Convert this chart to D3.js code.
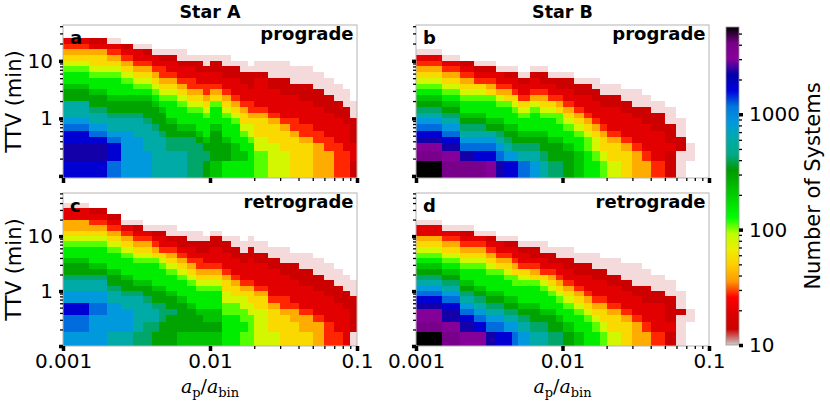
<!DOCTYPE html>
<html>
<head>
<meta charset="utf-8">
<script src="https://cdn.jsdelivr.net/npm/d3@7"></script>
<style>
  body { margin: 0; background: #fff; }
  svg { display: block; }
</style>
</head>
<body>
<div id="chart"></div>
<script>
// bin edges of the 2D histograms (a_p/a_bin across, TTV in minutes up)
const X_EDGES = [0.001, 0.0015, 0.002, 0.0025, 0.003, 0.0035, 0.004, 0.0045, 0.005,
  0.006, 0.007, 0.008, 0.009, 0.01, 0.012, 0.014, 0.016, 0.018, 0.02,
  0.025, 0.03, 0.035, 0.04, 0.05, 0.06, 0.07, 0.08, 0.09, 0.1];
const Y_EDGES = [0.09, 0.18, 0.275, 0.37, 0.47, 0.6, 0.8, 1.0, 1.25, 1.6, 2, 2.5, 3.2,
  4, 5, 6.3, 8, 10, 12.5, 16, 20, 25, 32, 40, 50, 63];

// one char per cell -> number of systems in that cell ("." = empty)
const LEVEL_CODES = "0123456789abcdefghij";
const LEVEL_COUNTS = [12, 14, 20, 28, 40, 55, 80, 110, 150, 220, 300, 420, 600, 850,
  1200, 1700, 2300, 3000, 4000, 5700];

// one string per x bin, top row first, bottom row last
const A_PRO = [
  "..234567889aacccdeffggf", "..1245567889aabccdefggf", "..02345678889aabccdeffe",
  "...1234567889aabccddddd", "...0223456789aabcccdddd", "...0123456789aaabccccdd",
  "....0223456789aaabccccc", "....01233456789aaabcccc", "....0122345678889aabbcc",
  "....00122345678889abbcc", ".....0122334567889abbbb", ".....01122345678889abbb",
  ".....001223345678889aba", ".....0112234578889aaaa9", ".....001122345678889aa8",
  "......01122234567888998", "......00112223455678898", ".......0111223345667888",
  "......00122222345556677", "......00011222234555666", "......00011122223455566",
  ".......0001122223345555", ".......0001112222334555", "........000111222233444",
  ".........00011122223344", "..........0001112222333", "...........000111222233",
  ".............0001111221"
];
const B_PRO = [
  "....023456789abcdefghij", ".....023456789abcdefghi", "......1234567889abcdegi",
  "......0123567889abcdefi", "......01234578889acdefh", ".......0223467889abcdeg",
  ".......01234578889abcdf", ".......01223567889aabdf", "........01223567889abce",
  ".......012234678889abcd", ".......011234567889aabc", "........012235678889aab",
  "........011234577889aab", "........0112234567889aa", ".........01122345678899",
  ".........01122234567788", ".........00112223456678", "..........0011222345567",
  "..........0011222234556", "...........001122223455", "...........000112222344",
  "............00111222234", ".............0011122223", "..............000111211",
  "................0001100", "....................00.", "", ""
];
const A_RET = [
  "..02244567889aabccddffeed", "...12345678889abccddeeddd", "....12345678889aabccddddc",
  ".....02345678889aabccdddc", ".....012345678889abcccccb", "......02345678889aabcccbb",
  "......012345788889aabccba", "......012235678889aabbbaa", "......0012345678889aabaaa",
  ".......0112345678889aaaa9", ".......00122345678889aaa9", ".......001123345678889aa9",
  "........011223456788899a9", ".......0112223456788899a9", "........01122234556677888",
  "........00112223455677888", ".........0011222345667787", "........00112222345566777",
  ".........0011222234556666", "..........001122222345556", "..........000112222334555",
  "...........00111222234455", "...........00011122223445", "............0001112222344",
  ".............000111222233", "..............00011122223", "...............0001112222",
  "................000111110"
];
const B_RET = [
  ".....022456789abcdefghhij", "......023456789abcdefgghi", "......01234567889abcdefgh",
  ".......02345678889abcdefh", ".......012345678889abcdeg", "........02234578889abcdef",
  "........012345678889abcdf", "........012234577889abcde", ".........012235678889abcd",
  ".........011234578889aabc", ".........0012235678889abc", "..........011234567889aab",
  "..........0012234567889ab", "..........00112234567889a", "...........00112234567889",
  "...........00112223456788", "...........00011222345678", "............0011222345567",
  "............0001122234556", ".............000112223455", ".............000011222344",
  "..............00011122234", "...............0001122223", "................000111121",
  "..................0001000", ".....................00..", "", ""
];

const X_TICKS = [0.001, 0.01, 0.1];
const X_TICK_LABELS = ["0.001", "0.01", "0.1"];
const Y_TICKS = [0.1, 1, 10];
const Y_TICK_LABELS = ["", "1", "10"];
const CBAR_TICKS = [10, 100, 1000];
const CBAR_TICK_LABELS = ["10", "100", "1000"];
const CBAR_RANGE = [10, 5700];

const STARS = ["Star A", "Star B"];
const ORBITS = ["prograde", "retrograde"];

// matplotlib nipy_spectral, used reversed
const NIPY = [
  [0.00, 0, 0, 0], [0.05, 0.4667, 0, 0.5333], [0.10, 0.5333, 0, 0.6], [0.15, 0, 0, 0.6667],
  [0.20, 0, 0, 0.8667], [0.25, 0, 0.4667, 0.8667], [0.30, 0, 0.6, 0.8667], [0.35, 0, 0.6667, 0.6667],
  [0.40, 0, 0.6667, 0.5333], [0.45, 0, 0.6, 0], [0.50, 0, 0.7333, 0], [0.55, 0, 0.8667, 0],
  [0.60, 0, 1, 0], [0.65, 0.7333, 1, 0], [0.70, 0.9333, 0.9333, 0], [0.75, 1, 0.8, 0],
  [0.80, 1, 0.6, 0], [0.85, 1, 0, 0], [0.90, 0.8667, 0, 0], [0.95, 0.8, 0, 0], [1.00, 0.8, 0.8, 0.8]
];

const W = 830, H = 406;
const FONT = "DejaVu Sans";
const TICK_FS = 20;

const nipy = d3.scaleLinear()
  .domain(NIPY.map(d => d[0]))
  .range(NIPY.map(d => d3.rgb(d[1] * 255, d[2] * 255, d[3] * 255)))
  .interpolate(d3.interpolateRgb);
const norm = d3.scaleLog().domain(CBAR_RANGE).range([0, 1]).clamp(true);
const colorOf = c => nipy(1 - norm(c));

const PANELS = [
  { key: "a", cols: A_PRO, orbit: ORBITS[0], x0: 63,  x1: 357, y0: 25,  y1: 178, ylim: [0.092, 42], xLabels: false, yLabels: true },
  { key: "b", cols: B_PRO, orbit: ORBITS[0], x0: 416, x1: 709, y0: 25,  y1: 178, ylim: [0.092, 42], xLabels: false, yLabels: false },
  { key: "c", cols: A_RET, orbit: ORBITS[1], x0: 63,  x1: 357, y0: 193, y1: 346, ylim: [0.1, 61],   xLabels: true,  yLabels: true },
  { key: "d", cols: B_RET, orbit: ORBITS[1], x0: 416, x1: 709, y0: 193, y1: 346, ylim: [0.1, 61],   xLabels: true,  yLabels: false }
];

const svg = d3.select("#chart").append("svg")
  .attr("width", W).attr("height", H)
  .attr("viewBox", `0 0 ${W} ${H}`)
  .attr("font-family", FONT);
const defs = svg.append("defs");

function minorTicks(lo, hi) {
  const out = [];
  for (let e = -2; e <= 4; e++) {
    for (let m = 2; m <= 9; m++) {
      const v = m * Math.pow(10, e);
      if (v > lo && v < hi) out.push(+v.toPrecision(3));
    }
  }
  return out;
}

function styleAxis(g, width) {
  g.attr("font-size", TICK_FS).attr("font-family", FONT);
  g.select(".domain").remove();
  g.selectAll(".tick line").attr("stroke", "#000").attr("stroke-width", width);
  g.selectAll(".tick text").attr("fill", "#000");
}

function drawPanel(p) {
  const x = d3.scaleLog().domain([X_EDGES[0], X_EDGES[X_EDGES.length - 1]]).range([p.x0, p.x1]);
  const y = d3.scaleLog().domain(p.ylim).range([p.y1, p.y0]);

  defs.append("clipPath").attr("id", "clip-" + p.key)
    .append("rect")
    .attr("x", p.x0).attr("y", p.y0)
    .attr("width", p.x1 - p.x0).attr("height", p.y1 - p.y0);

  const cells = [];
  p.cols.forEach((col, i) => {
    const n = col.length;
    for (let j = 0; j < n; j++) {
      const ch = col[n - 1 - j];
      if (ch === ".") continue;
      const lev = LEVEL_CODES.indexOf(ch);
      cells.push({ xa: X_EDGES[i], xb: X_EDGES[i + 1], ya: Y_EDGES[j], yb: Y_EDGES[j + 1],
                   count: LEVEL_COUNTS[lev], faint: lev === 0 });
    }
  });

  svg.append("g")
    .attr("clip-path", `url(#clip-${p.key})`)
    .selectAll("rect").data(cells).join("rect")
    .attr("x", d => x(d.xa))
    .attr("width", d => x(d.xb) - x(d.xa))
    .attr("y", d => y(d.yb))
    .attr("height", d => y(d.ya) - y(d.yb))
    .attr("fill", d => colorOf(d.count))
    .attr("fill-opacity", d => d.faint ? 0.22 : 1)
    .attr("shape-rendering", "crispEdges");

  svg.append("rect")
    .attr("x", p.x0).attr("y", p.y0)
    .attr("width", p.x1 - p.x0).attr("height", p.y1 - p.y0)
    .attr("fill", "none").attr("stroke", "#b4b4b4").attr("stroke-width", 1);

  // x axis
  svg.append("g").attr("transform", `translate(0,${p.y1})`)
    .call(d3.axisBottom(x).tickValues(minorTicks(0.001, 0.1)).tickSize(3).tickFormat(() => ""))
    .call(g => styleAxis(g, 1.3));
  svg.append("g").attr("transform", `translate(0,${p.y1})`)
    .call(d3.axisBottom(x).tickValues(X_TICKS).tickSize(5).tickPadding(3)
      .tickFormat((d, i) => p.xLabels ? X_TICK_LABELS[i] : ""))
    .call(g => styleAxis(g, 3.5));

  // y axis
  svg.append("g").attr("transform", `translate(${p.x0},0)`)
    .call(d3.axisLeft(y).tickValues(minorTicks(p.ylim[0], p.ylim[1])).tickSize(3).tickFormat(() => ""))
    .call(g => styleAxis(g, 1.3));
  svg.append("g").attr("transform", `translate(${p.x0},0)`)
    .call(d3.axisLeft(y).tickValues(Y_TICKS).tickSize(4).tickPadding(6)
      .tickFormat((d, i) => p.yLabels ? Y_TICK_LABELS[i] : ""))
    .call(g => styleAxis(g, 3.5));

  svg.append("text")
    .attr("x", p.x0 + 7).attr("y", p.y0 + 19)
    .attr("font-size", 18).attr("font-weight", "bold")
    .text(p.key);
  svg.append("text")
    .attr("x", p.x1 - 3.5).attr("y", p.y0 + 15)
    .attr("text-anchor", "end")
    .attr("font-size", 18).attr("font-weight", "bold")
    .text(p.orbit);

  if (p.yLabels) {
    svg.append("text")
      .attr("transform", `translate(21,${(p.y0 + p.y1) / 2}) rotate(-90)`)
      .attr("text-anchor", "middle")
      .attr("font-size", 21)
      .text("TTV (min)");
  }
  if (p.xLabels) {
    const t = svg.append("text")
      .attr("x", (p.x0 + p.x1) / 2).attr("y", 393)
      .attr("text-anchor", "middle")
      .attr("font-family", "DejaVu Serif").attr("font-size", 19);
    t.append("tspan").attr("font-style", "italic").text("a");
    t.append("tspan").attr("font-size", 13).attr("dy", 4).text("p");
    t.append("tspan").attr("dy", -4).text("/");
    t.append("tspan").attr("font-style", "italic").text("a");
    t.append("tspan").attr("font-size", 13).attr("dy", 4).text("bin");
  }
}

PANELS.forEach(drawPanel);

STARS.forEach((s, i) => {
  const p = PANELS[i];
  svg.append("text")
    .attr("x", (p.x0 + p.x1) / 2).attr("y", 18)
    .attr("text-anchor", "middle")
    .attr("font-size", 17.5).attr("font-weight", "bold")
    .text(s);
});

// colorbar
const cb = { x: 726, w: 13, y0: 27, y1: 345 };
const cbScale = d3.scaleLog().domain(CBAR_RANGE).range([cb.y1, cb.y0]);
const grad = defs.append("linearGradient").attr("id", "cbar-grad")
  .attr("x1", 0).attr("y1", 1).attr("x2", 0).attr("y2", 0);
d3.range(0, 101).forEach(k => {
  const t = k / 100;
  const c = Math.pow(10, Math.log10(CBAR_RANGE[0]) + t * Math.log10(CBAR_RANGE[1] / CBAR_RANGE[0]));
  grad.append("stop").attr("offset", t).attr("stop-color", colorOf(c));
});
svg.append("rect")
  .attr("x", cb.x).attr("y", cb.y0)
  .attr("width", cb.w).attr("height", cb.y1 - cb.y0)
  .attr("fill", "url(#cbar-grad)")
  .attr("stroke", "#999").attr("stroke-width", 0.8);

svg.append("g").attr("transform", `translate(${cb.x + cb.w},0)`)
  .call(d3.axisRight(cbScale).tickValues(minorTicks(CBAR_RANGE[0], CBAR_RANGE[1])).tickSize(3).tickFormat(() => ""))
  .call(g => styleAxis(g, 1.3));
svg.append("g").attr("transform", `translate(${cb.x + cb.w},0)`)
  .call(d3.axisRight(cbScale).tickValues(CBAR_TICKS).tickSize(4).tickPadding(6)
    .tickFormat((d, i) => CBAR_TICK_LABELS[i]))
  .call(g => styleAxis(g, 3.5));

svg.append("text")
  .attr("transform", `translate(820,${(cb.y0 + cb.y1) / 2}) rotate(-90)`)
  .attr("text-anchor", "middle")
  .attr("font-size", 21)
  .text("Number of Systems");
</script>
</body>
</html>
